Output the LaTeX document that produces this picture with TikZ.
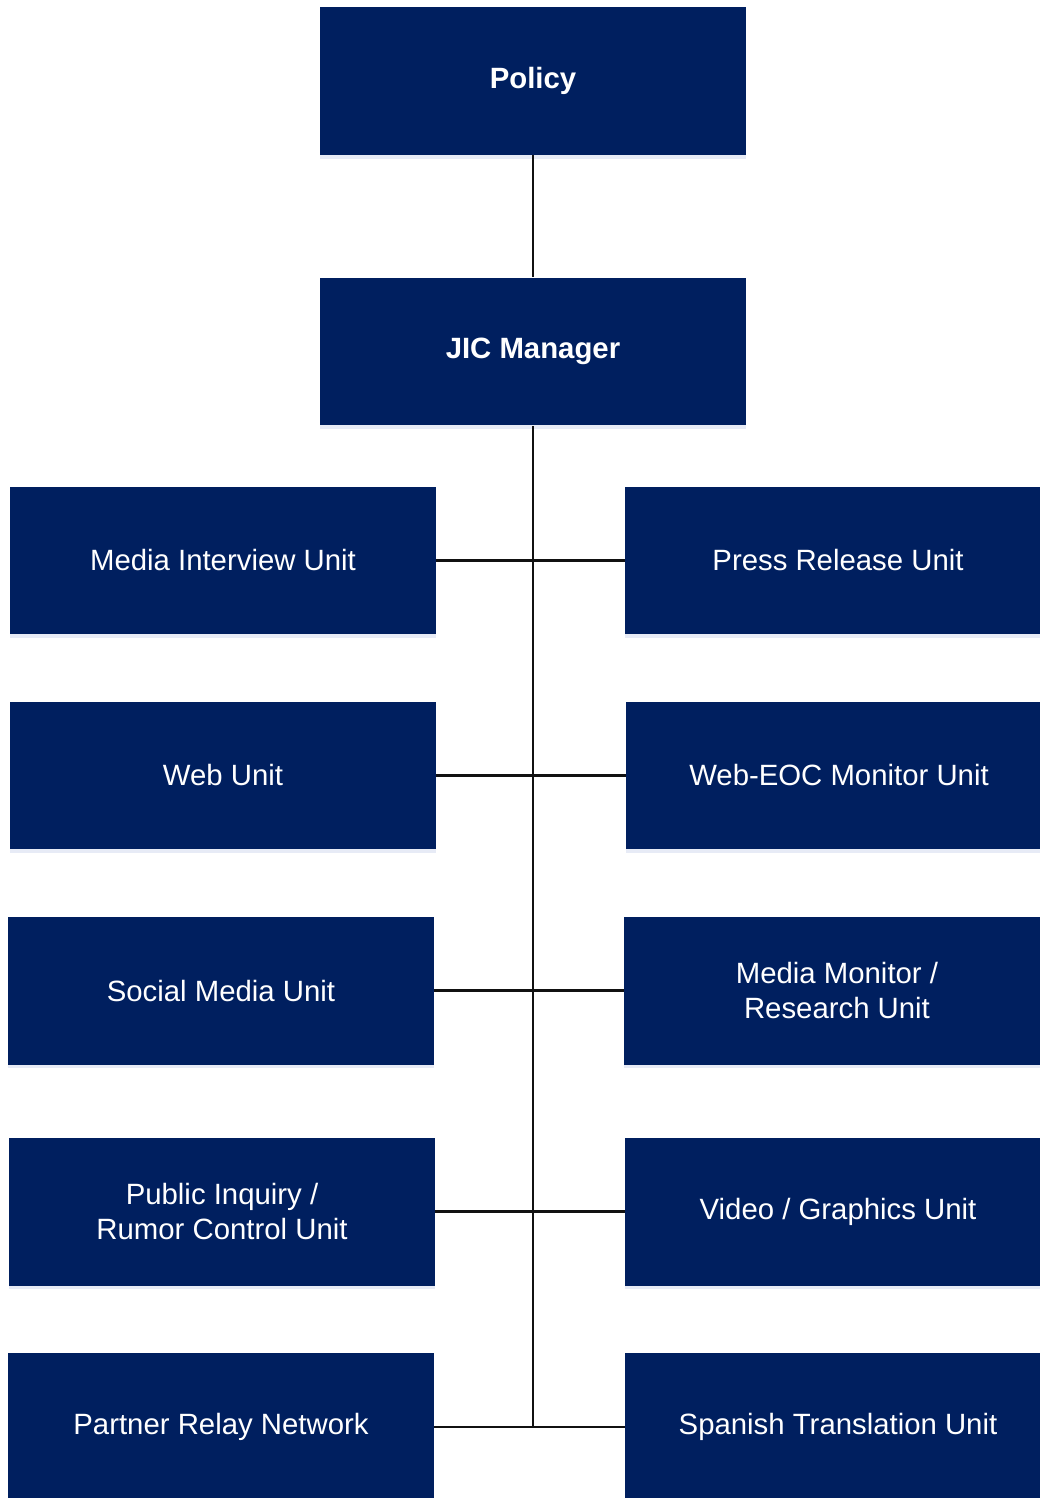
\documentclass[tikz,border=0pt]{standalone}
\usepackage{fontspec}
\setmainfont{Liberation Sans}
\usepackage{xcolor}
\usepackage{tikz}
\usetikzlibrary{positioning,shadows}
\definecolor{Navy}{HTML}{001F5F}
\definecolor{ShadeBlue}{HTML}{B9C6E4}
\definecolor{Ink}{HTML}{111111}
\tikzset{
  unit/.style={fill=Navy,text=white,minimum width=8.52cm,minimum height=2.96cm,inner sep=0pt,align=center,
    font=\fontsize{16.7}{20}\selectfont,
    drop shadow={shadow xshift=0pt,shadow yshift=-2pt,fill=ShadeBlue,opacity=0.35}},
  head/.style={unit,font=\fontsize{16.7}{20}\selectfont\bfseries},
  link/.style={draw=Ink,line width=1.2pt}
}
\begin{document}
\begin{tikzpicture}[x=0.02cm,y=-0.02cm]
  \useasboundingbox (0,0) rectangle (1039,1498);
  % top of the chart
  \node[head] (policy) at (533,81) {Policy};
  \node[head] (jic) at (533,351.5) {JIC Manager};
  % left column
  \node[unit] (interview) at (223,560.5) {Media Interview Unit};
  \node[unit] (web) at (223,775.5) {Web Unit};
  \node[unit] (social) at (221,990.5) {Social Media Unit};
  \node[unit] (inquiry) at (222,1211.5) {Public Inquiry /\\Rumor Control Unit};
  \node[unit] (relay) at (221,1427) {Partner Relay Network};
  % right column
  \node[unit] (press) at (838,560.5) {Press Release Unit};
  \node[unit] (webeoc) at (839,775.5) {Web-EOC Monitor Unit};
  \node[unit] (monitor) at (837,990.5) {Media Monitor /\\Research Unit};
  \node[unit] (video) at (838,1211.5) {Video / Graphics Unit};
  \node[unit] (spanish) at (838,1427) {Spanish Translation Unit};
  % connectors
  \coordinate (trunkend) at (533,1427);
  \draw[link] (policy) -- (jic);
  \draw[link] (jic) -- (trunkend);
  \foreach \l/\r in {interview/press,web/webeoc,social/monitor,inquiry/video,relay/spanish}
    \draw[link] (\l) -- (\r);
\end{tikzpicture}
\end{document}
